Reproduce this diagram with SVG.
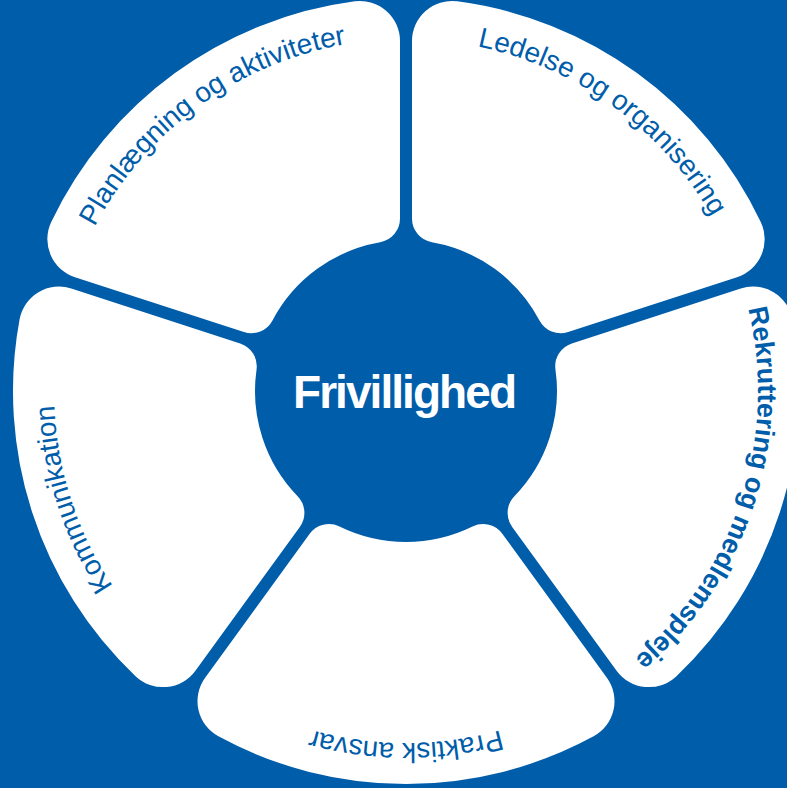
<svg xmlns="http://www.w3.org/2000/svg" width="787" height="788" viewBox="0 0 787 788">
<defs>
<style>
.bg{fill:#005DAA}
.seg{fill:#ffffff}
.lbl{font-family:"Liberation Sans",Arial,sans-serif;font-size:28px;fill:#005DAA}
.bold{font-weight:bold;font-size:27px}
.center{font-family:"Liberation Sans",Arial,sans-serif;font-weight:bold;font-size:46px;fill:#ffffff}
</style>
<path id="seg" d="M -200.87 -286.68 A 40 40 0 0 1 -187.60 -345.34 A 393 393 0 0 1 187.60 -345.34 A 40 40 0 0 1 200.87 -286.68 L 96.49 -143.01 A 24 24 0 0 1 66.50 -135.56 A 151 151 0 0 0 -66.50 -135.56 A 24 24 0 0 1 -96.49 -143.01 Z"/>
<path id="arc" d="M -352 0 A 352 352 0 0 1 352 0"/>
</defs>
<rect class="bg" x="0" y="0" width="787" height="788"/>
<g id="node-ledelse" transform="translate(406 391) rotate(36)">
<use href="#seg" class="seg"/>
<text class="lbl"><textPath href="#arc" startOffset="50%" text-anchor="middle">Ledelse og organisering</textPath></text>
</g>
<g id="node-rekruttering" transform="translate(406 391) rotate(108)">
<use href="#seg" class="seg"/>
<text class="lbl bold"><textPath href="#arc" startOffset="50%" text-anchor="middle">Rekruttering og medlemspleje</textPath></text>
</g>
<g id="node-praktisk" transform="translate(406 391) rotate(180)">
<use href="#seg" class="seg"/>
<text class="lbl"><textPath href="#arc" startOffset="50%" text-anchor="middle">Praktisk ansvar</textPath></text>
</g>
<g id="node-kommunikation" transform="translate(406 391) rotate(252)">
<use href="#seg" class="seg"/>
<text class="lbl"><textPath href="#arc" startOffset="50%" text-anchor="middle">Kommunikation</textPath></text>
</g>
<g id="node-planlaegning" transform="translate(406 391) rotate(324)">
<use href="#seg" class="seg"/>
<text class="lbl"><textPath href="#arc" startOffset="50%" text-anchor="middle">Planlægning og aktiviteter</textPath></text>
</g>
<g id="node-frivillighed">
<circle class="bg" cx="406" cy="391" r="150"/>
<text class="center" x="405" y="408" text-anchor="middle" textLength="224" lengthAdjust="spacing">Frivillighed</text>
</g>
</svg>
